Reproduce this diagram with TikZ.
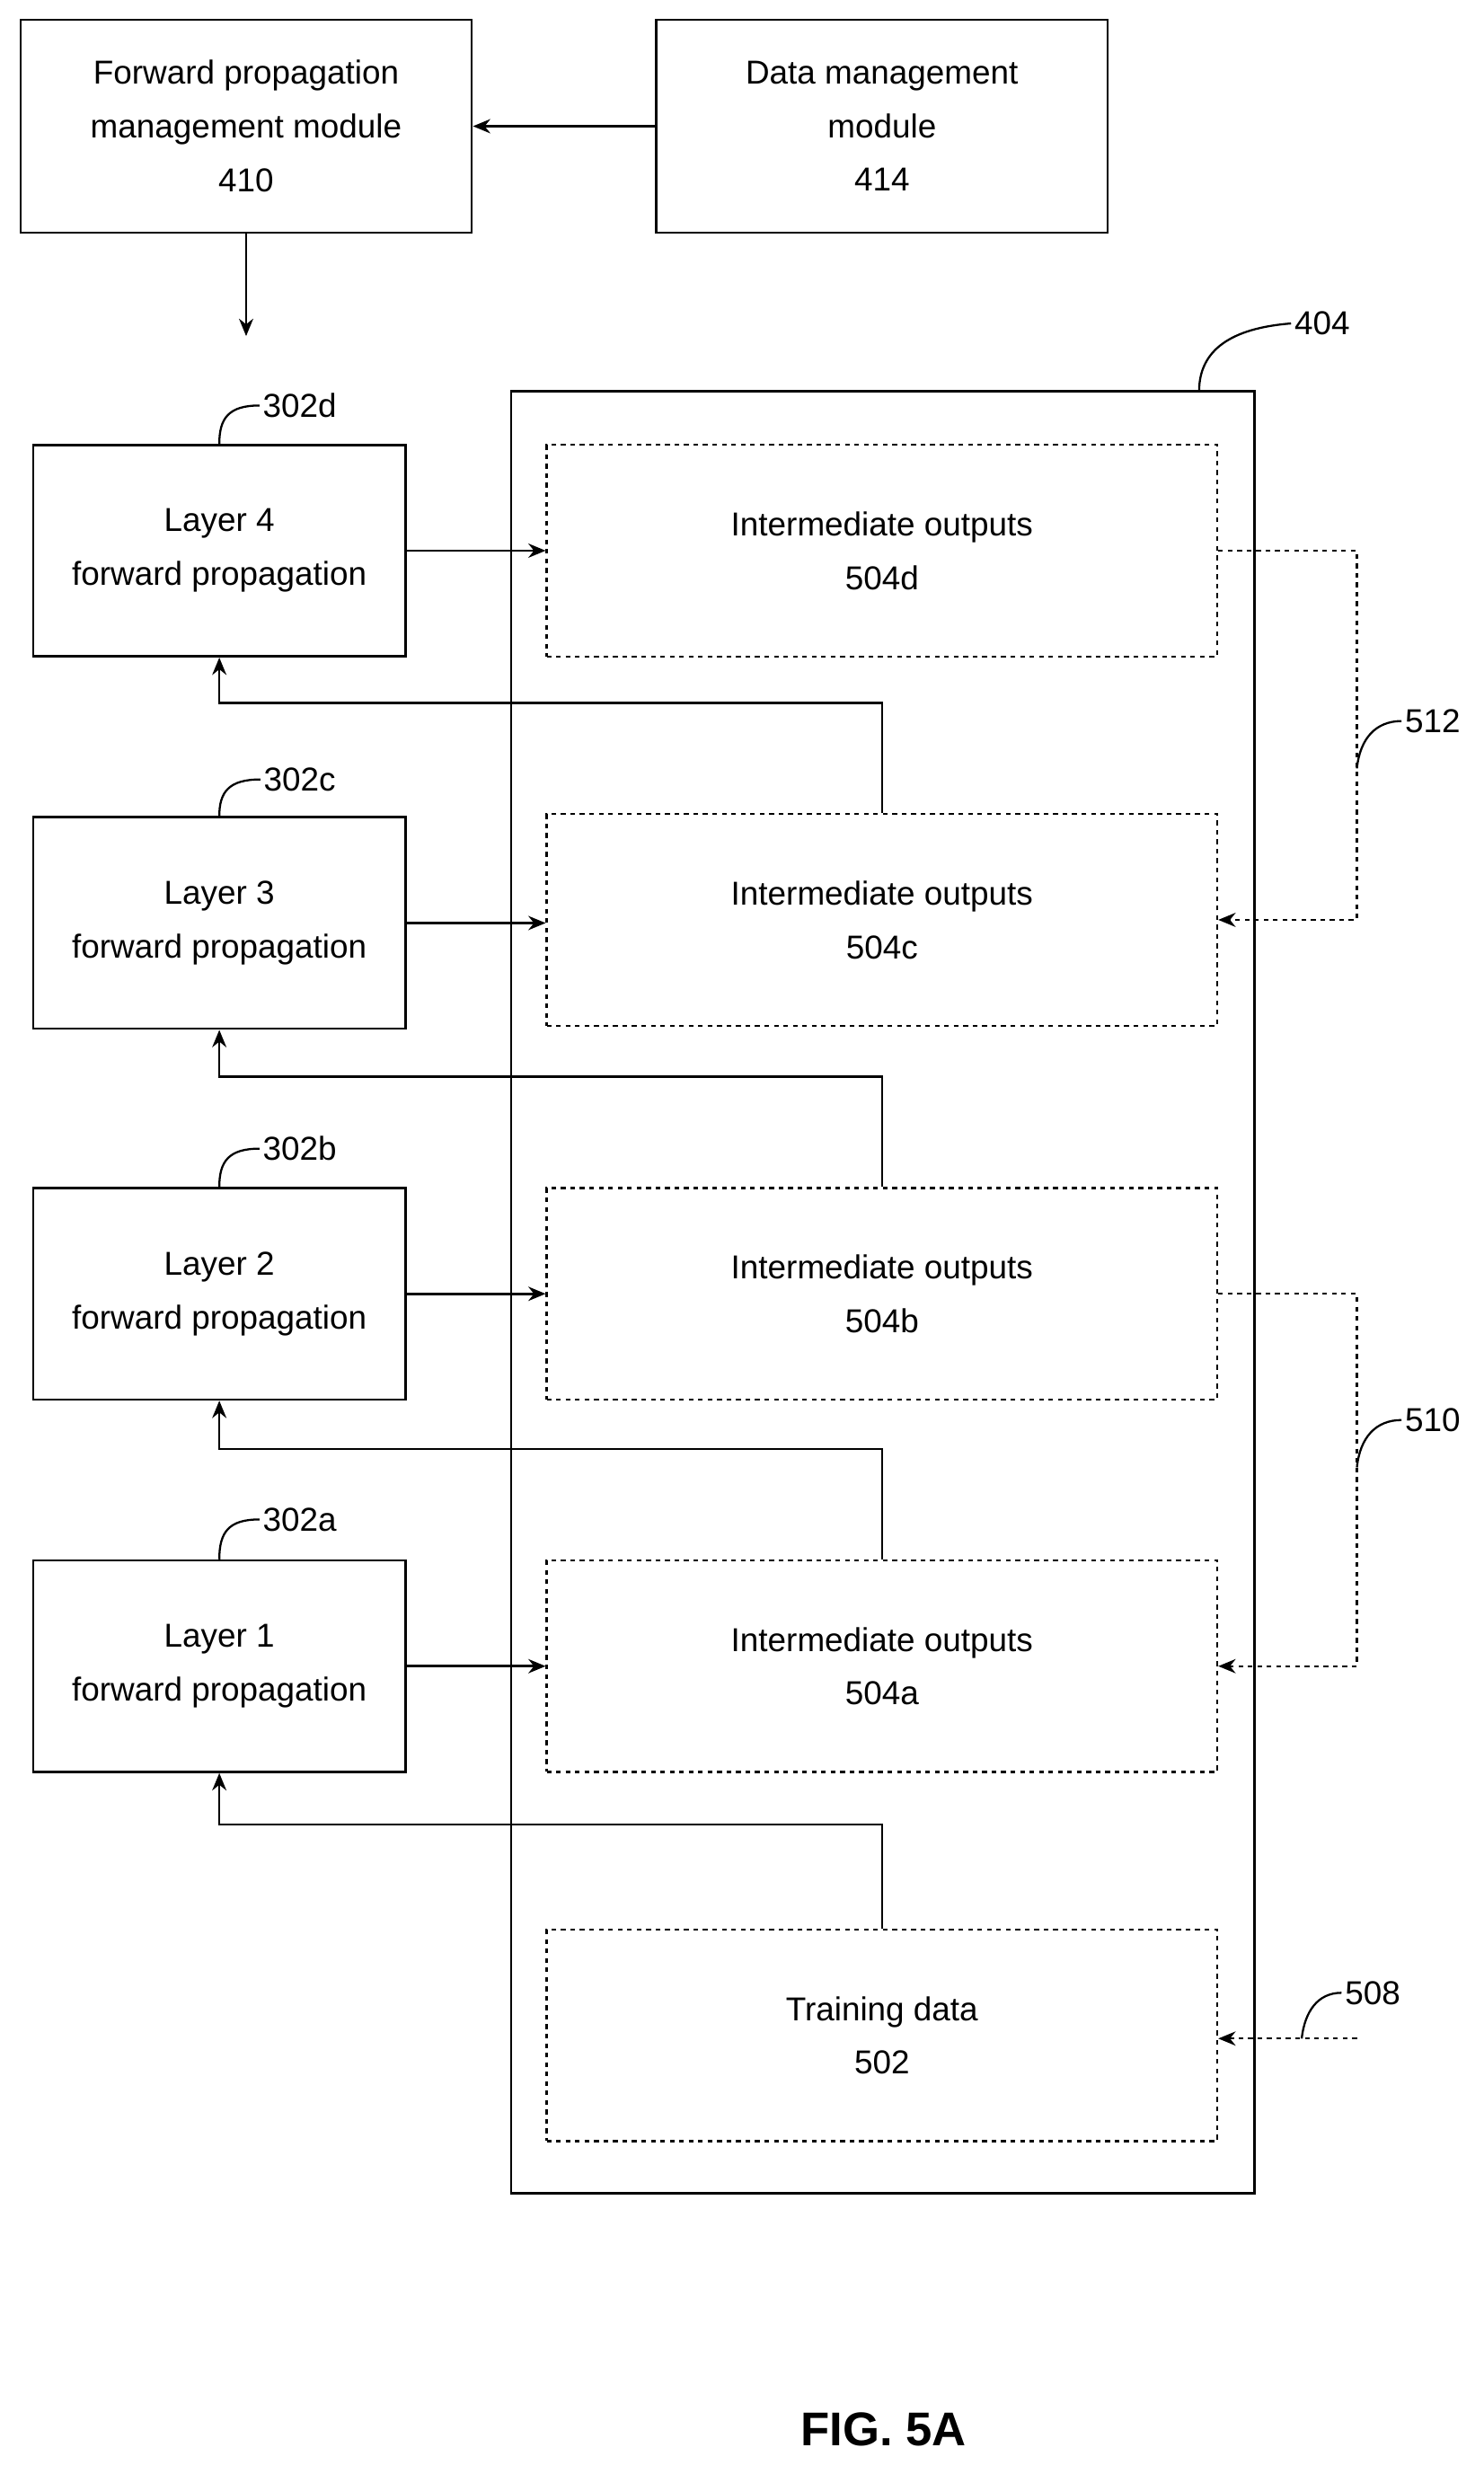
\documentclass[tikz,border=0pt]{standalone}
\usepackage{fontspec}
\setmainfont{Liberation Sans}
\usetikzlibrary{arrows.meta}
\tikzset{
  box/.style={draw,line width=1.5pt,minimum width=236pt,minimum height=134pt,align=center,inner sep=0pt},
  dbox/.style={draw,dashed,line width=1.3pt,minimum width=425pt,minimum height=134pt,align=center,inner sep=0pt},
  arr/.style={line width=1.5pt,-{Stealth[length=11pt,width=9pt]}},
  darr/.style={line width=1.3pt,dashed,-{Stealth[length=11pt,width=9pt]}},
  lead/.style={line width=1.3pt},
  lbl/.style={inner sep=2pt}
}
\begin{document}
\begin{tikzpicture}[x=1pt,y=-1pt,font=\fontsize{21}{34}\selectfont]
\useasboundingbox (0,0) rectangle (940,1568);
% top modules
\node[box,minimum width=286pt,minimum height=135pt] (fpm) at (156,80) {Forward propagation\\management module\\410};
\node[box,minimum width=286pt,minimum height=135pt] (dmm) at (559,80) {Data management\\module\\414};
\draw[arr] (dmm) -- (fpm);
\coordinate (fpmout) at (156,213);
\draw[arr] (fpm) -- (fpmout);
% storage 404
\draw[line width=1.5pt] (324,248) rectangle (795,1390);
\node[lbl] (l404) at (838,205) {404};
\draw[lead] (760,248) .. controls (760,222) and (780,208) .. (l404.west);
% layers and outputs
\foreach \n/\y in {4/349,3/585,2/820,1/1056}{
  \node[box] (layer\n) at (139,\y) {Layer \n\\forward propagation};
}
\foreach \n/\y in {d/349,c/583,b/820,a/1056}{
  \node[dbox] (out\n) at (559,\y) {Intermediate outputs\\504\n};
}
\node[dbox] (train) at (559,1290) {Training data\\502};
\foreach \n/\m in {4/d,3/c,2/b,1/a}{
  \draw[arr] (layer\n) -- (layer\n -| out\m.west);
}
% feedback
\draw[arr] (outc.north) |- ++(-420,-70) -- (layer4.south);
\draw[arr] (outb.north) |- ++(-420,-70) -- (layer3.south);
\draw[arr] (outa.north) |- ++(-420,-70) -- (layer2.south);
\draw[arr] (train.north) |- ++(-420,-66) -- (layer1.south);
% layer labels
\foreach \n/\s/\y in {4/d/257,3/c/494,2/b/728,1/a/963}{
  \node[lbl] (l302\s) at (190,\y) {302\s};
  \draw[lead] (layer\n.north) .. controls (139,\y+8) and (145,\y) .. (l302\s.west);
}
% dashed links
\draw[darr] (outd.east) -| (860,470) |- (outc.east);
\draw[darr] (outb.east) -| (860,940) |- (outa.east);
\node[lbl] (l512) at (908,457) {512};
\draw[lead] (860,487) .. controls (862,468) and (872,457) .. (l512.west);
\node[lbl] (l510) at (908,900) {510};
\draw[lead] (860,930) .. controls (862,911) and (872,900) .. (l510.west);
\coordinate (src) at (860,1292);
\draw[darr] (src) -- (train.east |- src);
\node[lbl] (l508) at (870,1263) {508};
\draw[lead] (825,1292) .. controls (827,1275) and (835,1263) .. (l508.west);
\node[font=\bfseries\fontsize{30}{36}\selectfont] (fig) at (560,1540) {FIG. 5A};
\end{tikzpicture}
\end{document}
